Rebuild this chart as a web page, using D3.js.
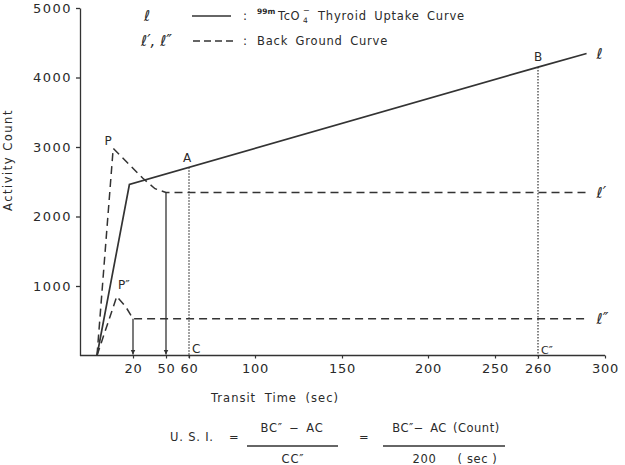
<!DOCTYPE html>
<html>
<head>
<meta charset="utf-8">
<script src="https://cdn.jsdelivr.net/npm/d3@7"></script>
<style>
  body { margin: 0; background: #fff; }
  text { font-family: "DejaVu Sans", sans-serif; fill: #2a2a2a; }
</style>
</head>
<body>
<div id="svg_container"></div>
<script>
// values (time in sec, activity in counts)
const xTickValues = [20, 50, 60, 100, 150, 200, 250, 260, 300];
const yTickValues = [1000, 2000, 3000, 4000, 5000];

// l : 99mTcO4- thyroid uptake curve
const uptakeCurve = [[0, 0], [18, 2460], [260, 4150], [289, 4345]];
// l' and l'' : back ground curves
const bgCurve1 = [[0, 0], [9, 2980], [29, 2550], [40, 2400], [50, 2345], [289, 2345]];
const bgCurve2 = [[0, 0], [11, 850], [16, 700], [20, 530], [289, 530]];

const pointP = [9, 2980];
const pointP2 = [11, 850];
const pointA = [60, 2710];
const pointB = [260, 4150];
const arrowsDown = [[20, 530], [50, 2345]];
const dottedDrops = [pointA, pointB];

const width = 625, height = 465;
const ink = "#333";

const svg = d3.select("#svg_container")
    .append("svg")
    .attr("width", width)
    .attr("height", height);

// the original axis is hand drawn and not evenly spaced, so the scale is piecewise
const x = d3.scaleLinear()
    .domain([0, 20, 50, 60, 100, 150, 200, 250, 260, 300])
    .range([97, 133, 166, 189, 255, 342, 428, 495, 538, 605]);
const y = d3.scaleLinear()
    .domain([0, 5000])
    .range([355.5, 8]);
const x0 = 80; // where the y axis sits

svg.append("defs").append("marker")
    .attr("id", "arrow")
    .attr("viewBox", "0 0 10 10")
    .attr("refX", 10).attr("refY", 5)
    .attr("markerWidth", 5).attr("markerHeight", 7)
    .attr("markerUnits", "userSpaceOnUse")
    .attr("orient", "auto")
    .append("path")
    .attr("d", "M0,0 L10,5 L0,10 Z")
    .attr("fill", ink);

// Y axis
const yAxis = svg.append("g")
    .attr("transform", `translate(${x0},0)`)
    .call(d3.axisLeft(y).tickValues(yTickValues).tickFormat(d3.format("d"))
        .tickSize(4).tickSizeOuter(0));
yAxis.selectAll("path, line").attr("stroke", ink).attr("stroke-width", 1.3);
yAxis.selectAll("text")
    .attr("font-size", 13)
    .attr("letter-spacing", 1.5)
    .attr("fill", "#2a2a2a")
    .attr("x", -8);

// X axis
svg.append("line")
    .attr("x1", x0).attr("x2", x(300))
    .attr("y1", y(0)).attr("y2", y(0))
    .attr("stroke", ink).attr("stroke-width", 1.3);
const xAxis = svg.append("g")
    .attr("transform", `translate(0,${y(0)})`)
    .call(d3.axisBottom(x).tickValues(xTickValues).tickSize(3).tickSizeOuter(0));
xAxis.select(".domain").remove();
xAxis.selectAll("line").attr("stroke", ink).attr("stroke-width", 1.2);
xAxis.selectAll("text")
    .attr("font-size", 13)
    .attr("letter-spacing", 0.8)
    .attr("fill", "#2a2a2a")
    .attr("y", 8);

// axis titles
svg.append("text")
    .attr("transform", "translate(12,160) rotate(-90)")
    .attr("text-anchor", "middle")
    .attr("font-size", 11.5)
    .attr("letter-spacing", 1.5)
    .text("Activity  Count");
svg.append("text")
    .attr("x", 275).attr("y", 402)
    .attr("text-anchor", "middle")
    .attr("font-size", 11.5)
    .attr("letter-spacing", 1)
    .attr("word-spacing", 4)
    .text("Transit Time (sec)");

const line = d3.line()
    .x(d => x(d[0]))
    .y(d => y(d[1]));

// curves
svg.append("path")
    .datum(uptakeCurve)
    .attr("d", line)
    .attr("fill", "none")
    .attr("stroke", ink)
    .attr("stroke-width", 1.7);
svg.selectAll(".bg")
    .data([bgCurve1, bgCurve2])
    .enter()
    .append("path")
    .attr("class", "bg")
    .attr("d", line)
    .attr("fill", "none")
    .attr("stroke", ink)
    .attr("stroke-width", 1.5)
    .attr("stroke-dasharray", "8,5");

// arrows down to the time axis
svg.selectAll(".arrow")
    .data(arrowsDown)
    .enter()
    .append("line")
    .attr("class", "arrow")
    .attr("x1", d => x(d[0])).attr("x2", d => x(d[0]))
    .attr("y1", d => y(d[1])).attr("y2", y(0) - 1)
    .attr("stroke", ink)
    .attr("stroke-width", 1.3)
    .attr("marker-end", "url(#arrow)");

// dotted drops from A and B
svg.selectAll(".drop")
    .data(dottedDrops)
    .enter()
    .append("line")
    .attr("class", "drop")
    .attr("x1", d => x(d[0])).attr("x2", d => x(d[0]))
    .attr("y1", d => y(d[1])).attr("y2", y(0) + 3)
    .attr("stroke", ink)
    .attr("stroke-width", 1.2)
    .attr("stroke-dasharray", "1.5,1.5");

// point labels
function label(txt, px, py, dx, dy, size) {
    svg.append("text")
        .attr("x", x(px) + dx)
        .attr("y", y(py) + dy)
        .attr("text-anchor", "middle")
        .attr("font-size", size || 12)
        .text(txt);
}
label("P", pointP[0], pointP[1], -5, -3);
label("P\u2033", pointP2[0], pointP2[1], 7, -7);
label("A", pointA[0], pointA[1], -2, -5);
label("B", pointB[0], pointB[1], 0, -6);
svg.append("text")
    .attr("x", x(pointA[0]) + 3).attr("y", y(0) - 3)
    .attr("font-size", 12).text("C");
svg.append("text")
    .attr("x", x(pointB[0]) + 3).attr("y", y(0) - 2)
    .attr("font-size", 11).text("C\u2033");

// curve names at the right end
const curveNames = [["\u2113", uptakeCurve], ["\u2113\u2032", bgCurve1], ["\u2113\u2033", bgCurve2]];
svg.selectAll(".cname")
    .data(curveNames)
    .enter()
    .append("text")
    .attr("class", "cname")
    .attr("x", d => x(d[1][d[1].length - 1][0]) + 10)
    .attr("y", d => y(d[1][d[1].length - 1][1]) + 5)
    .attr("font-family", "DejaVu Serif")
    .attr("font-style", "italic")
    .attr("font-size", 15)
    .text(d => d[0]);

// legend
const lg = svg.append("g");
lg.append("text").attr("x", 144).attr("y", 21)
    .attr("font-family", "DejaVu Serif").attr("font-style", "italic")
    .attr("font-size", 15).text("\u2113");
lg.append("text").attr("x", 141).attr("y", 46)
    .attr("font-family", "DejaVu Serif").attr("font-style", "italic")
    .attr("font-size", 15).text("\u2113\u2032, \u2113\u2033");
lg.append("line").attr("x1", 192).attr("x2", 231).attr("y1", 16).attr("y2", 16)
    .attr("stroke", ink).attr("stroke-width", 1.5);
lg.append("line").attr("x1", 193).attr("x2", 233).attr("y1", 41).attr("y2", 41)
    .attr("stroke", ink).attr("stroke-width", 1.5).attr("stroke-dasharray", "7,4");
lg.append("text").attr("x", 243).attr("y", 20).attr("font-size", 12).text(":");
lg.append("text").attr("x", 243).attr("y", 45).attr("font-size", 12).text(":");
lg.append("text").attr("x", 257).attr("y", 14).attr("font-size", 7.5).attr("font-weight", "bold").text("99m");
lg.append("text").attr("x", 278).attr("y", 20).attr("font-size", 11.5).attr("letter-spacing", 0.6).text("TcO");
lg.append("text").attr("x", 303).attr("y", 13).attr("font-size", 8).text("\u2212");
lg.append("text").attr("x", 303).attr("y", 23).attr("font-size", 7.5).text("4");
lg.append("text").attr("x", 318).attr("y", 20).attr("font-size", 11.5)
    .attr("letter-spacing", 0.8).attr("word-spacing", 3).text("Thyroid Uptake Curve");
lg.append("text").attr("x", 257).attr("y", 45).attr("font-size", 11.5)
    .attr("letter-spacing", 0.8).attr("word-spacing", 3).text("Back Ground Curve");

// U.S.I. formula
const f = svg.append("g").attr("font-size", 11.5);
f.append("text").attr("x", 170).attr("y", 441).attr("letter-spacing", 0.8).text("U. S. I.");
f.append("text").attr("x", 229).attr("y", 441).text("=");
f.append("text").attr("x", 292).attr("y", 432).attr("text-anchor", "middle")
    .attr("letter-spacing", 0.8).attr("word-spacing", 2).text("BC\u2033 \u2212 AC");
f.append("line").attr("x1", 247).attr("x2", 338).attr("y1", 446).attr("y2", 446)
    .attr("stroke", ink).attr("stroke-width", 1.3);
f.append("text").attr("x", 293).attr("y", 463).attr("text-anchor", "middle")
    .attr("letter-spacing", 0.8).text("CC\u2033");
f.append("text").attr("x", 359).attr("y", 441).text("=");
f.append("text").attr("x", 446).attr("y", 432).attr("text-anchor", "middle")
    .attr("letter-spacing", 0.5).attr("word-spacing", 2).text("BC\u2033\u2212 AC  (Count)");
f.append("line").attr("x1", 383).attr("x2", 505).attr("y1", 446).attr("y2", 446)
    .attr("stroke", ink).attr("stroke-width", 1.3);
f.append("text").attr("x", 455).attr("y", 463).attr("text-anchor", "middle")
    .attr("letter-spacing", 0.6).attr("xml:space", "preserve").text("200     ( sec )");
</script>
</body>
</html>
